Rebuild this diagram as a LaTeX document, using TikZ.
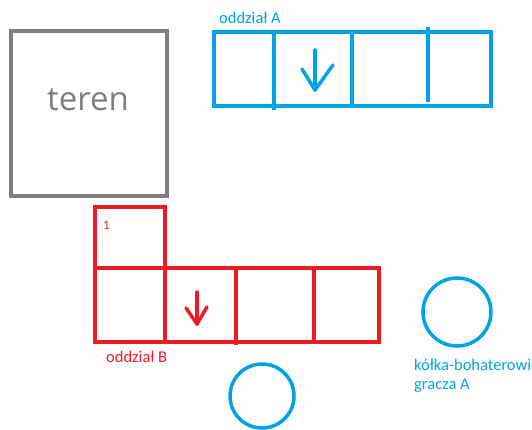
\documentclass[tikz,border=0pt]{standalone}
\usepackage{fontspec}
\setmainfont{Carlito}
\newfontfamily\terenfont{Open Sans}
\definecolor{pblue}{RGB}{0,162,232}
\definecolor{pred}{RGB}{237,28,36}
\definecolor{pgray}{RGB}{127,127,127}
\begin{document}
\begin{tikzpicture}[x=1pt,y=-1pt,
  gline/.style={draw=pgray,line width=4pt},
  bline/.style={draw=pblue,line width=4pt},
  rline/.style={draw=pred,line width=4pt},
  blabel/.style={text=pblue,font=\fontsize{16.5}{19}\selectfont,inner sep=0pt},
  rlabel/.style={text=pred,font=\fontsize{16.5}{19}\selectfont,inner sep=0pt}]
\useasboundingbox (0,0) rectangle (532,430);
% terrain
\draw[gline] (11,31) rectangle (167,196);
\node[text=pgray,font=\terenfont\fontsize{33}{38}\selectfont] (teren) at (88,100) {teren};
% unit A
\draw[bline] (214,32) rectangle (491,106);
\draw[bline] (274,32) -- (274,110);
\draw[bline] (352,32) -- (352,106);
\draw[bline] (428,27) -- (428,102);
\coordinate (aTop) at (315,50);
\coordinate (aTip) at (315,90);
\draw[bline,line width=3.5pt,line cap=round] (aTop) -- (aTip);
\draw[bline,line width=3.5pt,line cap=round,line join=round] (302,69) -- (aTip) -- (333,65);
\node[blabel,anchor=west] (labA) at (219,18) {oddział A};
% unit B
\draw[rline] (95,207) rectangle (165,268);
\draw[rline] (95,268) rectangle (379,342);
\draw[rline] (165,268) -- (165,342);
\draw[rline] (236,266) -- (236,345);
\draw[rline] (314,268) -- (314,342);
\coordinate (bTop) at (197,292);
\coordinate (bTip) at (197,324);
\draw[rline,line width=3.5pt,line cap=round] (bTop) -- (bTip);
\draw[rline,line width=3.5pt,line cap=round,line join=round] (186,308) -- (bTip) -- (207,307);
\node[rlabel,anchor=west,font=\fontsize{13}{15}\selectfont] (one) at (103,225) {1};
\node[rlabel,anchor=west] (labB) at (106,357) {oddział B};
% hero circles
\draw[bline,line width=3.5pt] (457,312) circle (34);
\draw[bline,line width=3.5pt] (262,396) circle (32);
\node[blabel,anchor=north west,align=left] (labC) at (414,359) {kółka-bohaterowie\\gracza A};
\end{tikzpicture}
\end{document}
